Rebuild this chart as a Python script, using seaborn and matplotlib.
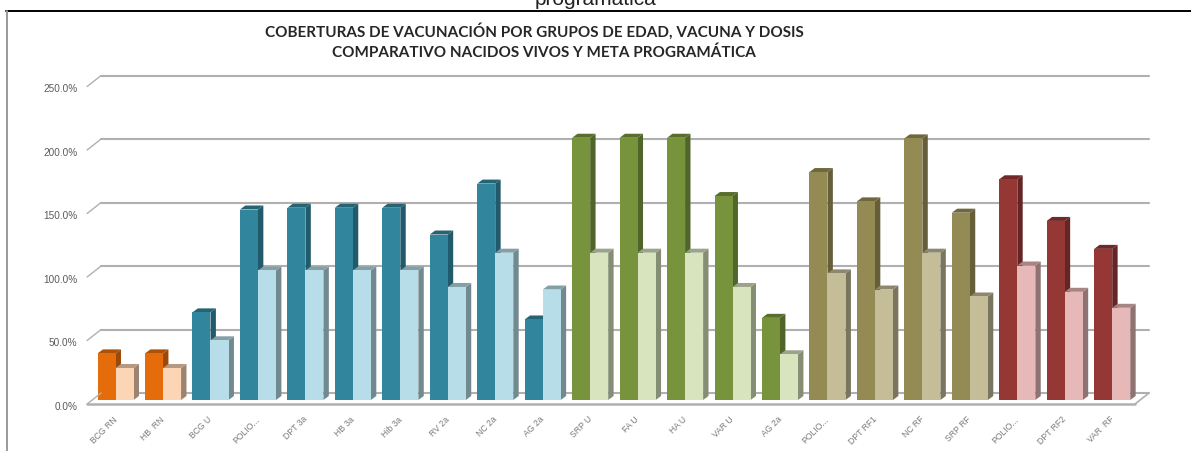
import numpy as np
import pandas as pd
import matplotlib
matplotlib.use("Agg")
import matplotlib.pyplot as plt
import seaborn as sns
from matplotlib.colors import to_rgb
from matplotlib.lines import Line2D
from matplotlib.patches import Polygon
from matplotlib.transforms import Affine2D

etiquetas = ["BCG RN", "HB  RN", "BCG U", "POLIO...", "DPT 3a", "HB 3a", "Hib 3a", "RV 2a", "NC 2a", "AG 2a",
             "SRP U", "FA U", "HA U", "VAR U", "AG 2a", "POLIO...", "DPT RF1", "NC RF", "SRP RF",
             "POLIO...", "DPT RF2", "VAR  RF"]
nacidos_vivos = [36.7, 36.7, 69, 150, 151.4, 151.4, 151.4, 130.3, 170.4, 63.4, 206.5, 206.5, 206.5, 160.6, 64.7,
                 179.5, 156.4, 206, 147.5, 173.8, 141, 119]
meta_programatica = [25.2, 25.2, 47, 102, 102, 102, 102, 89, 116, 87, 116, 116, 116, 89, 36,
                     99.7, 87, 116, 81.5, 105.9, 85.2, 72.6]
grupo = [0, 0, 1, 1, 1, 1, 1, 1, 1, 1, 2, 2, 2, 2, 2, 3, 3, 3, 3, 4, 4, 4]
oscuros = ["#E46C0A", "#31859C", "#77933C", "#948A54", "#953735"]
claros = ["#FCD5B5", "#B7DEE8", "#D7E4BD", "#C4BD97", "#E6B9B8"]
marcas_y = [0, 50, 100, 150, 200, 250]
titulo1 = "COBERTURAS DE VACUNACIÓN POR GRUPOS DE EDAD, VACUNA Y DOSIS"
titulo2 = "COMPARATIVO NACIDOS VIVOS Y META PROGRAMÁTICA"

W, H = 1191, 452

df = pd.DataFrame({
    "pos": list(range(22)) * 2,
    "valor": nacidos_vivos + meta_programatica,
    "serie": ["nv"] * 22 + ["meta"] * 22,
})

sns.set_theme(style="white")
plt.rcParams["font.family"] = ["Lato", "DejaVu Sans"]

fig = plt.figure(figsize=(W / 100, H / 100), dpi=100)
# ejes: x de 87 a 1135 px, y de 401 (0%) a 83.5 (250%)
ax = fig.add_axes([87.1 / W, 1 - 401 / H, (1135 - 87.1) / W, 317.5 / H])
sns.barplot(data=df, x="pos", y="valor", hue="serie", hue_order=["nv", "meta"], order=list(range(22)),
            dodge=True, width=0.76, legend=False, ax=ax, zorder=3, saturation=1)
ax.set_xlim(-0.6, 21.48)
ax.set_ylim(0, 250)
sns.despine(ax=ax, left=True, bottom=True)

# paredes y piso del grafico 3d
fondo = ax.transData + Affine2D().translate(14, -4 + 11)
frente = ax.transData + Affine2D().translate(0, -4)
gris = "#B0B0B0"
xi, xf = ax.get_xlim()
for v in marcas_y:
    ax.plot([xi, xf], [v, v], transform=fondo, color=gris, lw=1.5, zorder=1, clip_on=False)
    x0, y0 = frente.transform((xi, v))
    x1, y1 = fondo.transform((xi, v))
    fig.add_artist(Line2D([x0 / W, x1 / W], [y0 / H, y1 / H], color=gris, lw=1.0, zorder=1))
ax.plot([xi, xf], [0, 0], transform=frente, color=gris, lw=1.8, zorder=2, clip_on=False)
a = frente.transform((xf, 0))
b = fondo.transform((xf, 0))
fig.add_artist(Line2D([a[0] / W, b[0] / W], [a[1] / H, b[1] / H], color=gris, lw=1.2, zorder=1))

# caras laterales y superiores de cada barra
sx = 5.4 / 47.46
sy = 4 / 1.27
for cont, paleta, k_lado, k_top in [(ax.containers[0], oscuros, 0.68, 0.75), (ax.containers[1], claros, 0.62, 0.72)]:
    for i, r in enumerate(cont):
        c = to_rgb(paleta[grupo[i]])
        r.set_facecolor(c)
        r.set_edgecolor("none")
        x, w, h = r.get_x(), r.get_width(), r.get_height()
        x2 = x + w
        z = 4 if cont is ax.containers[0] else 5
        lado = [(x2, 0), (x2, h), (x2 + sx, h + sy), (x2 + sx, sy)]
        tapa = [(x, h), (x2, h), (x2 + sx, h + sy), (x + sx, h + sy)]
        ax.add_patch(Polygon(lado, closed=True, fc=tuple(np.array(c) * k_lado), ec="none", zorder=z, clip_on=False))
        ax.add_patch(Polygon(tapa, closed=True, fc=tuple(np.array(c) * k_top), ec="none", zorder=z, clip_on=False))
        r.set_zorder(z + 0.5)

ax.set_xlabel("")
ax.set_ylabel("")
ax.set_xticks(range(22))
ax.set_xticklabels(etiquetas, rotation=45, ha="right", rotation_mode="anchor", fontsize=6.2, color="#7A7A7A",
                   family=["Liberation Sans"])
ax.set_yticks(marcas_y)
ax.set_yticklabels([f"{v:.1f}%" for v in marcas_y], fontsize=7.2, color="#5A5A5A", family=["Liberation Sans"])
ax.tick_params(axis="x", length=0, pad=10)
ax.tick_params(axis="y", length=0, pad=7)
for t in ax.get_xticklabels():
    t.set_transform(t.get_transform() + Affine2D().translate(-3, 0))
for t in ax.get_yticklabels():
    t.set_transform(t.get_transform() + Affine2D().translate(0, -5))

# marco de la captura y titulos
fig.add_artist(Line2D([6 / W, 1], [1 - 11.5 / H, 1 - 11.5 / H], color="black", lw=1.4))
fig.add_artist(Line2D([6.5 / W, 6.5 / W], [0, 1 - 12 / H], color="#9A9A9A", lw=1.4))
fig.text(534.5 / W, 1 - 31 / H, titulo1, ha="center", va="center", fontsize=11, fontweight="bold", color="#262626")
fig.text(544 / W, 1 - 53 / H, titulo2, ha="center", va="center", fontsize=11, fontweight="bold", color="#262626")
fig.text(596 / W, 1 - 5 / H, "programática", ha="center", va="baseline", fontsize=15, color="#222222",
         family=["Liberation Sans"])

fig.savefig("out.png", dpi=100, facecolor="white")
